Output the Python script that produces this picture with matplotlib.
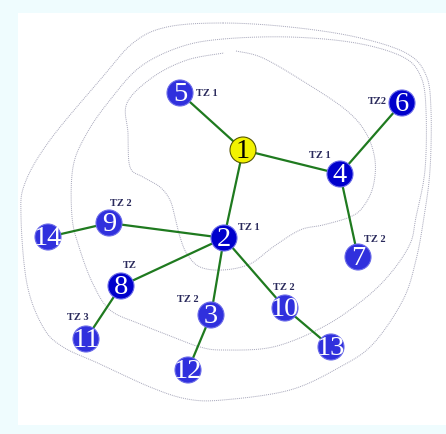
import numpy as np
import matplotlib.pyplot as plt
from matplotlib.patches import Circle, Rectangle

# node ids and positions (pixel coords of the picture)
nodes = ['1', '2', '3', '4', '5', '6', '7', '8', '9', '10', '11', '12', '13', '14']
node_x = [243, 224, 211, 340, 180, 402, 358, 121, 109, 285, 86, 188, 331, 48]
node_y = [150, 238, 315, 174, 93, 103, 257, 286, 223, 308, 339, 370, 347, 237]
node_kind = ['root', 'dark', 'light', 'dark', 'light', 'dark', 'light', 'dark',
             'light', 'light', 'light', 'light', 'light', 'light']

edges = [('1', '5'), ('1', '4'), ('1', '2'), ('4', '6'), ('4', '7'), ('2', '9'),
         ('9', '14'), ('2', '8'), ('8', '11'), ('2', '3'), ('3', '12'),
         ('2', '10'), ('10', '13')]

# zone labels
tz_text = ['TZ 1', 'TZ2', 'TZ 1', 'TZ 2', 'TZ 1', 'TZ 2', 'TZ', 'TZ 2', 'TZ 2', 'TZ 3']
tz_x = [207, 377, 320, 121, 249, 375, 130, 188, 284, 78]
tz_y = [94, 101, 155, 203, 228, 240, 266, 300, 287, 318]

# dotted zone boundaries
outer = [(223, 23), (290, 27), (356, 37), (406, 53), (426, 75), (431, 110), (430, 170),
         (424, 217), (416, 260), (403, 300), (373, 344), (340, 367), (290, 390),
         (223, 400), (187, 399), (150, 387), (100, 364), (63, 347), (43, 327),
         (27, 284), (21, 217), (25, 183), (50, 140), (100, 80), (133, 43), (167, 27)]
middle = [(223, 39), (290, 37), (356, 43), (403, 57), (421, 77), (426, 110), (425, 170),
          (416, 217), (410, 244), (390, 274), (363, 300), (323, 327), (273, 347),
          (223, 350), (200, 347), (173, 337), (140, 324), (110, 310), (93, 284),
          (80, 250), (72, 217), (73, 167), (87, 133), (110, 100), (140, 67), (180, 47)]
inner = [(236, 51), (263, 58), (306, 83), (346, 110), (366, 133), (375, 160), (373, 187),
         (363, 207), (350, 217), (323, 225), (300, 230), (273, 247), (250, 264),
         (223, 270), (200, 267), (187, 254), (180, 237), (175, 217), (170, 200),
         (160, 187), (143, 177), (130, 167), (128, 133), (127, 103), (153, 77),
         (187, 60), (224, 53)]


def smooth(pts, closed=True, n=12):
    p = np.array(pts, dtype=float)
    if closed:
        p = np.vstack([p[-1], p, p[0], p[1]])
    else:
        p = np.vstack([p[0], p, p[-1]])
    out = []
    t = np.linspace(0, 1, n, endpoint=False)[:, None]
    for i in range(1, len(p) - 2):
        p0, p1, p2, p3 = p[i - 1], p[i], p[i + 1], p[i + 2]
        out.append(0.5 * (2 * p1 + (-p0 + p2) * t + (2 * p0 - 5 * p1 + 4 * p2 - p3) * t ** 2
                          + (-p0 + 3 * p1 - 3 * p2 + p3) * t ** 3))
    out = np.vstack(out)
    if not closed:
        out = np.vstack([out, p[-2]])
    return out


fig = plt.figure(figsize=(4.46, 4.34), dpi=100, facecolor='#effcfe')
ax = fig.add_axes([0, 0, 1, 1])
ax.set_xlim(0, 446)
ax.set_ylim(434, 0)
ax.axis('off')

ax.add_patch(Rectangle((18, 13), 428, 412, facecolor='white', edgecolor='none', zorder=0))

for pts, closed in [(outer, True), (middle, True), (inner, False)]:
    c = smooth(pts, closed)
    if closed:
        c = np.vstack([c, c[0]])
    ax.plot(c[:, 0], c[:, 1], color='#a4a4b8', lw=0.7, ls=(0, (1, 1)), zorder=1)

pos = {n: (x, y) for n, x, y in zip(nodes, node_x, node_y)}
for a, b in edges:
    ax.plot([pos[a][0], pos[b][0]], [pos[a][1], pos[b][1]], color='#1f7a1f', lw=1.6, zorder=2)

colors = {'root': '#f2f200', 'dark': '#0000cc', 'light': '#3030dd'}
for n, x, y, k in zip(nodes, node_x, node_y, node_kind):
    ec = '#555500' if k == 'root' else '#6a6ae8'
    ax.add_patch(Circle((x, y), 13, facecolor=colors[k], edgecolor=ec, lw=0.8, zorder=3))
    ax.text(x, y + 1.5, n, color='black' if k == 'root' else 'white', fontsize=20.5,
            family='Liberation Serif', ha='center', va='center', zorder=4)

for t, x, y in zip(tz_text, tz_x, tz_y):
    ax.text(x, y, t, fontsize=7.5, fontweight='bold', family='Liberation Serif',
            color='#2a2a5c', ha='center', va='center', zorder=4)

fig.savefig('out.png', dpi=100, facecolor=fig.get_facecolor())
